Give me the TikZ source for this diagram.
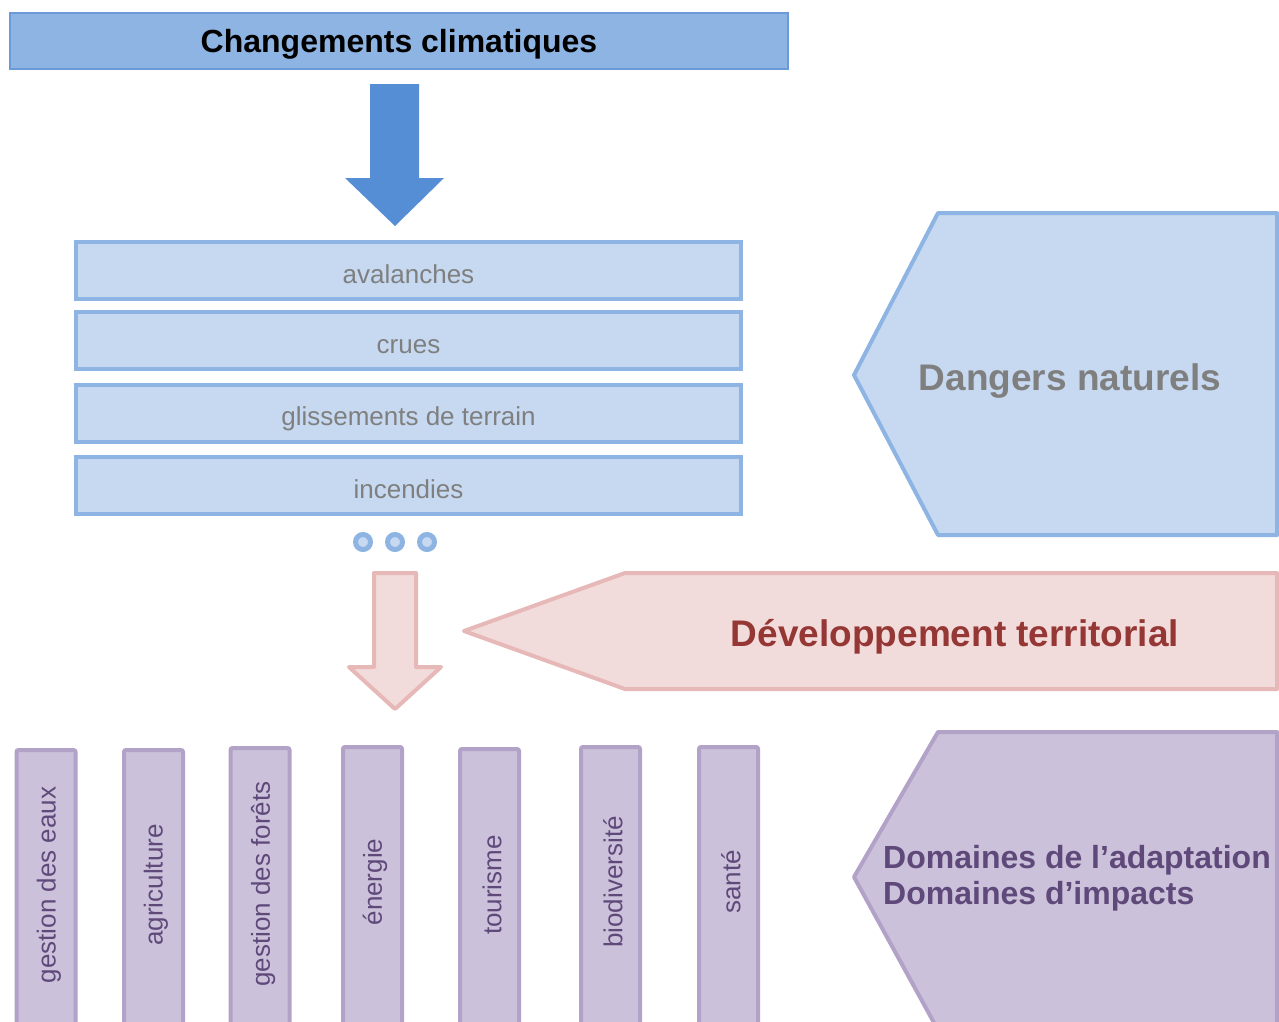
\documentclass[tikz,border=0pt]{standalone}
\usepackage{fontspec}
\setmainfont{Liberation Sans}
\usetikzlibrary{calc}

% palette
\definecolor{titlefill}{HTML}{8EB4E3}
\definecolor{titleline}{HTML}{6A9BD8}
\definecolor{bluearrow}{HTML}{558ED5}
\definecolor{hzfill}{HTML}{C6D9F1}
\definecolor{hzline}{HTML}{8EB4E3}
\definecolor{hztext}{HTML}{7F7F7F}
\definecolor{pinkfill}{HTML}{F2DCDB}
\definecolor{pinkline}{HTML}{E6B9B8}
\definecolor{pinktext}{HTML}{953735}
\definecolor{purpfill}{HTML}{CCC1DA}
\definecolor{purpline}{HTML}{B3A2C7}
\definecolor{purptext}{HTML}{5F497A}

\tikzset{
  titlebox/.style={draw=titleline, fill=titlefill, line width=1.5, minimum width=778,
    minimum height=56, inner sep=0, text height=22pt, text depth=0pt,
    font=\fontsize{32}{36}\selectfont\bfseries, text=black},
  hazard/.style={draw=hzline, fill=hzfill, line width=4, minimum width=665, minimum height=57,
    inner sep=0, text height=25pt, text depth=0pt, text=hztext, font=\fontsize{26}{30}\selectfont},
  dotmark/.style={circle, draw=hzline, fill=hzfill, line width=5, minimum size=15, inner sep=0},
  domainbar/.style={draw=purpline, fill=purpfill, line width=4, minimum width=59,
    minimum height=320, inner sep=0, rounded corners=2, anchor=north},
  bartext/.style={rotate=90, inner sep=0, text=purptext, font=\fontsize{26}{30}\selectfont},
  bigtext/.style={inner sep=0, font=\fontsize{37}{42}\selectfont\bfseries},
  bluepent/.style={draw=hzline, fill=hzfill, line width=4, line join=round},
  pinkshape/.style={draw=pinkline, fill=pinkfill, line width=4, line join=round},
  purpshape/.style={draw=purpline, fill=purpfill, line width=4, line join=round},
}

\begin{document}
\begin{tikzpicture}[x=1pt, y=-1pt]
\useasboundingbox (0,0) rectangle (1279,1021);
\clip (0,0) rectangle (1279,1021);
\fill[white] (0,0) rectangle (1279,1021);

% heading
\node[titlebox] (climat) at (399,41) {Changements climatiques};

% solid arrow from the heading down to the hazards
\coordinate (a1) at (395,84);
\fill[bluearrow] ($(a1)+(-25,0)$) -- ($(a1)+(24,0)$) -- ($(a1)+(24,94)$) -- ($(a1)+(49,94)$)
  -- ($(a1)+(0,142)$) -- ($(a1)+(-50,94)$) -- ($(a1)+(-25,94)$) -- cycle;

% hazard list
\node[hazard] (h1) at (408.5,270.5) {avalanches};
\node[hazard] (h2) at (408.5,340.5) {crues};
\node[hazard] (h3) at (408.5,413) {glissements de terrain};
\node[hazard] (h4) at (408.5,485.5) {incendies};

\node[dotmark] (d1) at (363,542) {};
\node[dotmark] (d2) at (395,542) {};
\node[dotmark] (d3) at (427,542) {};

% side panel: natural hazards
\draw[bluepent] (938,213) -- (1277,213) -- (1277,535) -- (938,535) -- (854,375) -- cycle;
\node[bigtext, text=hztext] (dangers) at (1070,381) {Dangers naturels};

% outlined arrow towards the domains
\coordinate (a2) at (395,573);
\draw[pinkshape] ($(a2)+(-21,0)$) -- ($(a2)+(21,0)$) -- ($(a2)+(21,94)$) -- ($(a2)+(46,94)$)
  -- ($(a2)+(0,136)$) -- ($(a2)+(-46,94)$) -- ($(a2)+(-21,94)$) -- cycle;

% pointer: territorial development
\draw[pinkshape] (625,573) -- (1277,573) -- (1277,689) -- (625,689) -- (464,631) -- cycle;
\node[bigtext, text=pinktext] (devel) at (955,637) {Développement territorial};

% domain bars
\node[domainbar] (b1) at (46,748) {};
\node[domainbar] (b2) at (153.5,748) {};
\node[domainbar] (b3) at (260,746) {};
\node[domainbar] (b4) at (372.5,745) {};
\node[domainbar] (b5) at (489.5,747) {};
\node[domainbar] (b6) at (610.5,745) {};
\node[domainbar] (b7) at (728.5,745) {};

\node[bartext] (t1) at (49,885) {gestion des eaux};
\node[bartext] (t2) at (156,885) {agriculture};
\node[bartext] (t3) at (263,884) {gestion des forêts};
\node[bartext] (t4) at (375,882) {énergie};
\node[bartext] (t5) at (492,885) {tourisme};
\node[bartext] (t6) at (613,882) {biodiversité};
\node[bartext] (t7) at (731,882) {santé};

% side panel: domains
\draw[purpshape] (938,732) -- (1277,732) -- (1277,1030) -- (938,1030) -- (854,877) -- cycle;
\node[inner sep=0, anchor=west, align=left, text=purptext,
  font=\fontsize{32}{36}\selectfont\bfseries] (domaines) at (883,878.5)
  {Domaines de l’adaptation\\Domaines d’impacts};
\end{tikzpicture}
\end{document}
